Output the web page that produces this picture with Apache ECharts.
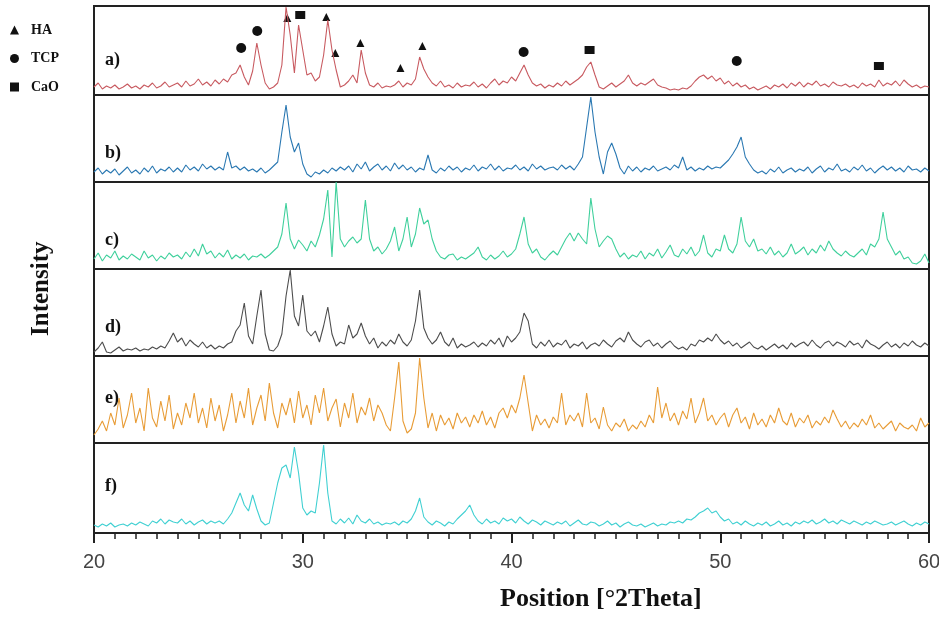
<!DOCTYPE html>
<html>
<head>
<meta charset="utf-8">
<script src="https://cdn.jsdelivr.net/npm/echarts@6/dist/echarts.min.js"></script>
<style>html,body{margin:0;padding:0;background:#fff;}#c{width:939px;height:617px;}</style>
</head>
<body>
<div id="c"></div>
<script>
// 2-theta grid: 20 .. 60 step 0.2
const thetaStart = 20, thetaStep = 0.2;
const xTicks = [20, 30, 40, 50, 60];
const panelNames = ['a)', 'b)', 'c)', 'd)', 'e)', 'f)'];

const seriesA = [
 8,12,6,9,7,10,6,8,11,7,
 9,6,10,8,12,7,9,13,8,10,
 12,8,14,9,11,16,10,13,9,15,
 11,16,13,20,22,30,18,10,24,52,
 30,12,6,8,12,30,88,60,22,70,
 45,20,22,14,18,40,75,45,25,8,
 10,14,20,12,45,22,10,8,12,7,
 9,8,10,14,8,12,10,16,38,26,
 18,12,9,14,8,10,7,12,8,10,
 9,13,8,11,7,12,16,10,14,12,
 18,14,22,30,20,12,9,11,7,10,
 8,12,9,14,10,13,16,20,28,33,
 20,8,6,9,12,8,11,14,20,12,
 9,12,10,13,16,10,8,7,5,6,
 5,7,6,9,14,18,20,16,19,14,
 17,11,14,9,12,8,10,6,8,5,
 7,9,6,10,8,11,7,12,9,13,
 8,12,10,14,9,11,8,13,10,9,
 11,8,10,7,12,9,11,8,15,9,
 12,10,14,9,15,11,8,10,7,9,
 8];
const seriesB = [
 10,14,8,12,9,13,7,11,15,9,
 12,8,14,10,16,9,13,11,15,10,
 14,10,17,12,15,11,18,13,16,12,
 15,12,30,14,16,12,15,11,13,10,
 14,9,12,16,20,50,77,45,30,39,
 18,8,5,10,8,12,9,14,11,15,
 12,16,10,18,13,20,11,15,18,12,
 16,11,19,13,17,12,15,10,14,12,
 27,12,9,14,11,16,12,15,10,14,
 12,17,11,15,13,18,12,16,11,14,
 13,17,12,15,11,18,13,16,12,14,
 15,12,17,13,16,12,18,25,55,85,
 50,25,8,30,39,28,14,8,16,11,
 15,10,14,12,16,11,13,15,12,17,
 14,25,12,15,11,14,12,16,13,15,
 14,18,22,28,35,45,25,18,12,9,
 11,8,13,10,15,9,12,14,10,13,
 11,15,9,13,16,10,14,12,18,11,
 13,10,15,12,17,11,14,9,13,16,
 12,15,11,14,10,16,12,13,10,14,
 11];
const seriesC = [
 10,16,8,14,11,18,9,13,10,15,
 12,9,18,11,14,8,13,10,16,12,
 14,10,17,12,20,13,25,15,18,11,
 16,12,19,10,14,11,15,9,13,12,
 15,11,14,18,22,35,66,30,20,29,
 24,18,28,22,34,50,79,12,87,30,
 22,28,32,26,30,69,30,18,22,15,
 20,28,42,18,30,52,22,35,61,45,
 49,30,18,12,10,14,15,9,12,10,
 13,16,22,12,9,14,10,13,18,12,
 15,20,35,52,25,16,20,12,9,14,
 18,14,22,30,36,28,36,30,25,71,
 40,22,28,33,30,20,12,16,10,14,
 12,18,10,16,13,20,11,17,24,14,
 12,20,15,22,13,18,34,16,12,20,
 18,34,20,16,25,52,28,22,30,18,
 20,15,22,14,18,12,16,25,15,18,
 22,14,20,16,24,18,28,20,16,13,
 18,14,12,16,20,14,25,22,30,57,
 30,22,14,18,10,12,6,5,8,15,
 6];
const seriesD = [
 4,8,14,4,3,6,9,5,7,6,
 8,5,7,6,9,7,10,8,15,23,
 14,18,10,16,12,9,14,8,11,7,
 10,8,12,14,25,31,53,20,12,40,
 66,22,6,5,10,22,60,86,40,30,
 61,25,20,25,14,30,49,22,10,14,
 12,31,18,22,33,20,12,18,8,14,
 10,16,12,22,14,10,16,35,66,28,
 18,12,16,24,14,10,18,8,12,9,
 11,14,9,13,10,16,12,18,9,20,
 14,18,24,43,35,12,8,14,10,16,
 9,13,11,16,8,12,10,14,7,11,
 13,10,16,12,9,15,18,14,24,16,
 12,9,14,16,10,13,8,12,15,10,
 7,9,6,12,10,16,14,18,15,22,
 16,12,15,10,13,8,11,14,9,7,
 10,6,9,12,8,11,7,13,9,12,
 14,10,16,11,8,13,15,10,14,12,
 9,15,11,13,8,16,12,10,7,11,
 14,9,12,8,13,10,15,11,9,13,
 10];
const seriesE = [
 8,14,22,12,30,18,45,15,28,50,
 20,35,12,55,25,16,42,22,48,14,
 30,18,40,25,50,20,35,15,45,22,
 38,12,28,50,20,42,25,55,18,35,
 48,22,60,30,15,40,28,45,20,52,
 25,38,18,48,30,55,22,35,44,16,
 40,25,50,20,36,28,45,22,38,30,
 18,12,45,81,22,10,14,30,85,45,
 15,30,12,28,18,25,14,30,20,26,
 16,28,20,32,18,26,15,30,35,25,
 38,30,45,68,40,12,28,18,24,15,
 26,20,50,18,28,22,30,16,50,20,
 25,14,36,18,12,20,16,24,12,18,
 14,22,16,28,20,56,25,40,22,30,
 18,32,24,45,20,30,45,22,28,18,
 25,30,16,28,35,20,26,14,30,18,
 24,16,28,20,35,22,18,30,16,25,
 20,28,15,22,18,26,20,33,24,16,
 22,14,20,16,24,18,28,15,20,14,
 18,22,12,20,16,14,18,12,25,16,
 20];
const seriesF = [
 8,6,9,7,10,6,8,9,7,10,
 8,11,9,7,12,10,14,9,13,11,
 10,14,9,12,8,11,13,9,12,10,
 12,9,14,20,30,40,28,22,38,24,
 12,8,10,30,50,65,68,55,86,60,
 25,18,22,20,50,88,40,12,9,14,
 10,15,9,18,12,10,14,9,11,8,
 10,9,11,8,12,10,14,22,35,16,
 11,8,12,10,7,11,9,14,18,22,
 28,18,12,9,14,10,12,9,15,12,
 14,10,16,12,9,13,11,8,12,10,
 8,11,9,12,7,10,13,9,8,11,
 10,7,9,12,8,10,6,9,11,8,
 7,9,6,8,10,7,9,8,11,10,
 12,10,14,13,16,20,22,25,20,22,
 16,12,14,9,11,8,12,9,7,10,
 8,11,7,9,12,8,10,7,11,9,
 12,10,13,9,11,14,10,12,9,13,
 11,9,12,10,8,11,9,12,10,8,
 9,11,8,10,12,9,7,10,8,11,
 9];

// phase markers on pattern a): [2theta, intensity]
const markHA  = [[29.26,77],[31.13,78],[31.56,42],[32.76,52],[34.68,27],[35.73,49]];
const markTCP = [[27.05,47],[27.82,64],[40.58,43],[50.79,34]];
const markCaO = [[29.88,80],[43.74,45],[57.6,29]];

const allSeries = [seriesA, seriesB, seriesC, seriesD, seriesE, seriesF];
const colors = ['#c85a60', '#2a78b2', '#3fd09c', '#4d4d4d', '#e89c36', '#40d0d2'];
const tops = [6, 95, 182, 269, 356, 443];
const heights = [89, 87, 87, 87, 87, 90];
const labelY = [60, 153, 240, 327, 398, 486];

const serif = '"Liberation Serif","Times New Roman",serif';
const sans = '"Liberation Sans",Arial,sans-serif';

const grids = [], xAxes = [], yAxes = [], series = [], graphics = [];
allSeries.forEach((vals, k) => {
  grids.push({left: 94, right: 10, top: tops[k], height: heights[k],
    show: true, borderColor: '#222', borderWidth: 2, containLabel: false, outerBoundsMode: 'none'});
  const last = k === allSeries.length - 1;
  xAxes.push({
    gridIndex: k, type: 'value', min: 20, max: 60, interval: 10,
    show: last,
    axisLine: {show: true, onZero: false, lineStyle: {color: '#222', width: 2}},
    axisTick: {show: true, inside: false, length: 10, lineStyle: {color: '#222', width: 2}},
    minorTick: {show: true, splitNumber: 10, length: 6, lineStyle: {color: '#222', width: 1.5}},
    splitLine: {show: false},
    axisLabel: {show: last, fontFamily: sans, fontSize: 20, color: '#444', margin: 19}
  });
  yAxes.push({gridIndex: k, type: 'value', min: 0, max: heights[k], show: false, splitLine: {show: false}});
  series.push({
    type: 'line', xAxisIndex: k, yAxisIndex: k, showSymbol: false, symbol: 'none',
    silent: true, animation: false,
    lineStyle: {color: colors[k], width: 1.1},
    data: vals.map((v, i) => [Math.round((thetaStart + thetaStep * i) * 10) / 10, v])
  });
  graphics.push({type: 'text', left: 105, top: labelY[k] - 9,
    style: {text: panelNames[k], font: 'bold 18px ' + serif, fill: '#111'}});
});

const markerStyle = {color: '#111', opacity: 1};
series.push({name: 'HA', type: 'scatter', xAxisIndex: 0, yAxisIndex: 0, symbol: 'triangle', symbolSize: 8, itemStyle: markerStyle, data: markHA, animation: false});
series.push({name: 'TCP', type: 'scatter', xAxisIndex: 0, yAxisIndex: 0, symbol: 'circle', symbolSize: 10, itemStyle: markerStyle, data: markTCP, animation: false});
series.push({name: 'CaO', type: 'scatter', xAxisIndex: 0, yAxisIndex: 0, symbol: 'rect', symbolSize: [10, 8], itemStyle: markerStyle, data: markCaO, animation: false});

graphics.push({type: 'text', left: 500, top: 586,
  style: {text: 'Position [°2Theta]', font: 'bold 26px ' + serif, fill: '#111'}});
graphics.push({type: 'text', x: 29, y: 336, rotation: Math.PI / 2,
  style: {text: 'Intensity', font: 'bold 25px ' + serif, fill: '#111'}});

const chart = echarts.init(document.getElementById('c'), null, {renderer: 'canvas'});
chart.setOption({
  animation: false,
  backgroundColor: '#fff',
  grid: grids, xAxis: xAxes, yAxis: yAxes, series: series,
  legend: {data: ['HA', 'TCP', 'CaO'], orient: 'vertical', left: 5, top: 18,
    itemWidth: 9, itemHeight: 9, itemGap: 14.5, selectedMode: false,
    textStyle: {fontFamily: serif, fontWeight: 'bold', fontSize: 14, color: '#111', padding: [0, 0, 0, 7]}},
  graphic: graphics
});
</script>
</body>
</html>
